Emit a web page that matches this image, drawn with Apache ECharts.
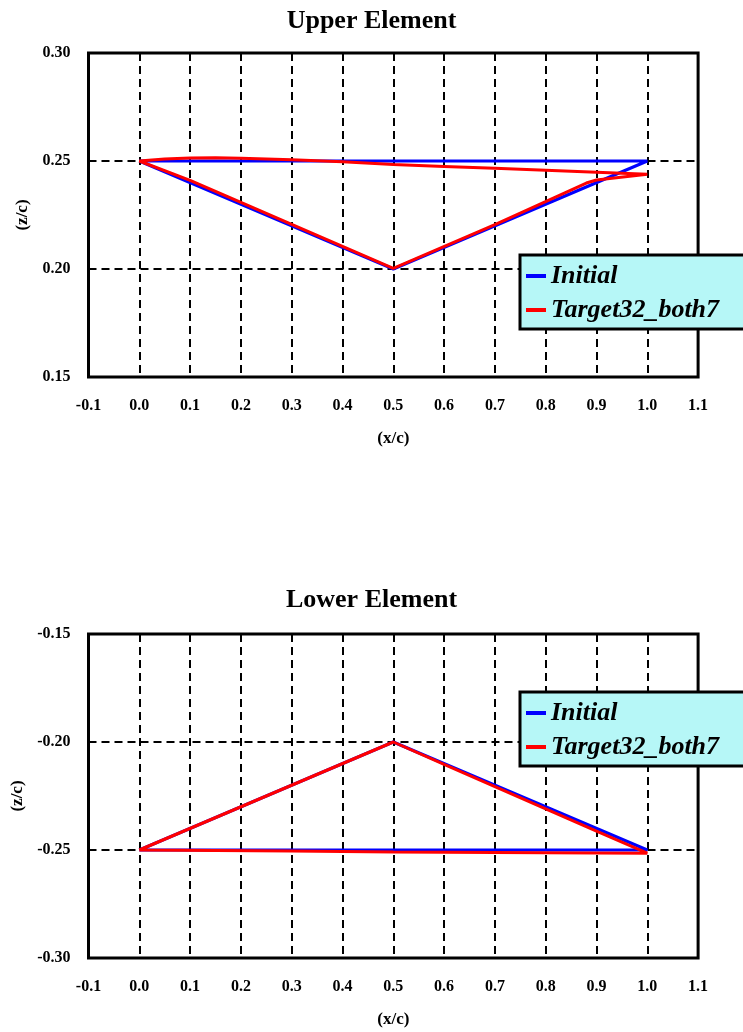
<!DOCTYPE html>
<html>
<head>
<meta charset="utf-8">
<script src="https://cdn.jsdelivr.net/npm/echarts@6/dist/echarts.min.js"></script>
<style>
  html, body { margin: 0; padding: 0; background: #fff; }
  #chart { width: 743px; height: 1032px; }
</style>
</head>
<body>
<div id="chart"></div>
<script>
// ---- data ----
const xTicks = [-0.1, 0.0, 0.1, 0.2, 0.3, 0.4, 0.5, 0.6, 0.7, 0.8, 0.9, 1.0, 1.1];
const upperZTicks = [0.15, 0.20, 0.25, 0.30];
const lowerZTicks = [-0.30, -0.25, -0.20, -0.15];
const seriesNames = ['Initial', 'Target32_both7'];

const upperInitialX = [0.0, 0.5, 1.0, 0.0];
const upperInitialZ = [0.25, 0.20, 0.25, 0.25];
const upperTargetX = [1.0, 0.9, 0.8, 0.7, 0.6, 0.5, 0.4, 0.3, 0.2, 0.15, 0.1, 0.05, 0.0, 0.1, 0.5, 0.7, 0.88, 0.9, 1.0];
const upperTargetZ = [0.2439, 0.2448, 0.2457, 0.2466, 0.2475, 0.2484, 0.2496, 0.2506, 0.2513, 0.2515, 0.2514, 0.2509, 0.2500, 0.2410, 0.2003, 0.2205, 0.2398, 0.2412, 0.2439];

const lowerInitialX = [0.0, 0.5, 1.0, 0.0];
const lowerInitialZ = [-0.25, -0.20, -0.25, -0.25];
const lowerTargetX = [0.0, 0.5, 0.6, 0.7, 0.8, 0.9, 1.0, 0.7, 0.5, 0.3, 0.0];
const lowerTargetZ = [-0.25, -0.20, -0.2104, -0.2207, -0.2310, -0.2413, -0.2515, -0.2512, -0.2509, -0.2505, -0.25];

function pairs(xs, zs) { return xs.map((x, i) => [x, zs[i]]); }

const FONT = 'Liberation Serif';
const BLUE = '#0000ff';
const RED = '#ff0000';

function xAxisCfg(gridIndex) {
  return {
    type: 'value', gridIndex: gridIndex,
    min: xTicks[0], max: xTicks[xTicks.length - 1], interval: 0.1,
    name: '(x/c)', nameLocation: 'middle', nameGap: 53,
    nameTextStyle: { fontFamily: FONT, fontWeight: 'bold', fontSize: 17, color: '#000' },
    axisLine: { show: false },
    axisTick: { show: false },
    axisLabel: { margin: 21, fontFamily: FONT, fontWeight: 'bold', fontSize: 16, color: '#000',
      formatter: v => v.toFixed(1) },
    splitLine: { show: true, lineStyle: { color: '#000', width: 2, type: [8, 5] } }
  };
}
function yAxisCfg(gridIndex, ticks, gap) {
  return {
    type: 'value', gridIndex: gridIndex,
    min: ticks[0], max: ticks[ticks.length - 1], interval: 0.05,
    name: '(z/c)', nameLocation: 'middle', nameGap: gap, nameRotate: 90,
    nameTextStyle: { fontFamily: FONT, fontWeight: 'bold', fontSize: 17, color: '#000' },
    axisLine: { show: false },
    axisTick: { show: false },
    axisLabel: { margin: 18, fontFamily: FONT, fontWeight: 'bold', fontSize: 16, color: '#000',
      formatter: v => v.toFixed(2) },
    splitLine: { show: true, lineStyle: { color: '#000', width: 2, type: [8, 5] } }
  };
}
function legendCfg(top) {
  return {
    orient: 'vertical', left: 520, top: top,
    data: seriesNames,
    backgroundColor: '#b6f7f7', borderColor: '#000', borderWidth: 3, borderRadius: 0,
    padding: [8, 60, 6, 6], itemGap: 8, itemWidth: 20, itemHeight: 4, icon: 'rect',
    textStyle: { fontFamily: FONT, fontWeight: 'bold', fontStyle: 'italic', fontSize: 26, color: '#000' }
  };
}
function lineSeries(name, color, xi, data) {
  return {
    name: name, type: 'line', xAxisIndex: xi, yAxisIndex: xi,
    data: data, showSymbol: false, symbol: 'none', smooth: false,
    lineStyle: { color: color, width: 3 }, itemStyle: { color: color },
    animation: false
  };
}

const chart = echarts.init(document.getElementById('chart'), null, { renderer: 'canvas' });
chart.setOption({
  backgroundColor: '#fff',
  animation: false,
  title: [
    { text: 'Upper Element', left: 'center', top: 3,
      textStyle: { fontFamily: FONT, fontWeight: 'bold', fontSize: 26, color: '#000' } },
    { text: 'Lower Element', left: 'center', top: 582,
      textStyle: { fontFamily: FONT, fontWeight: 'bold', fontSize: 26, color: '#000' } }
  ],
  grid: [
    { left: 88.5, top: 53, width: 609.6, height: 324, show: true, borderColor: '#000', borderWidth: 3, backgroundColor: 'transparent' },
    { left: 88.5, top: 634, width: 609.6, height: 324, show: true, borderColor: '#000', borderWidth: 3, backgroundColor: 'transparent' }
  ],
  xAxis: [xAxisCfg(0), xAxisCfg(1)],
  yAxis: [yAxisCfg(0, upperZTicks, 56), yAxisCfg(1, lowerZTicks, 52)],
  legend: [legendCfg(255), legendCfg(692)],
  series: [
    lineSeries(seriesNames[0], BLUE, 0, pairs(upperInitialX, upperInitialZ)),
    lineSeries(seriesNames[1], RED, 0, pairs(upperTargetX, upperTargetZ)),
    lineSeries(seriesNames[0], BLUE, 1, pairs(lowerInitialX, lowerInitialZ)),
    lineSeries(seriesNames[1], RED, 1, pairs(lowerTargetX, lowerTargetZ))
  ]
});
</script>
</body>
</html>
